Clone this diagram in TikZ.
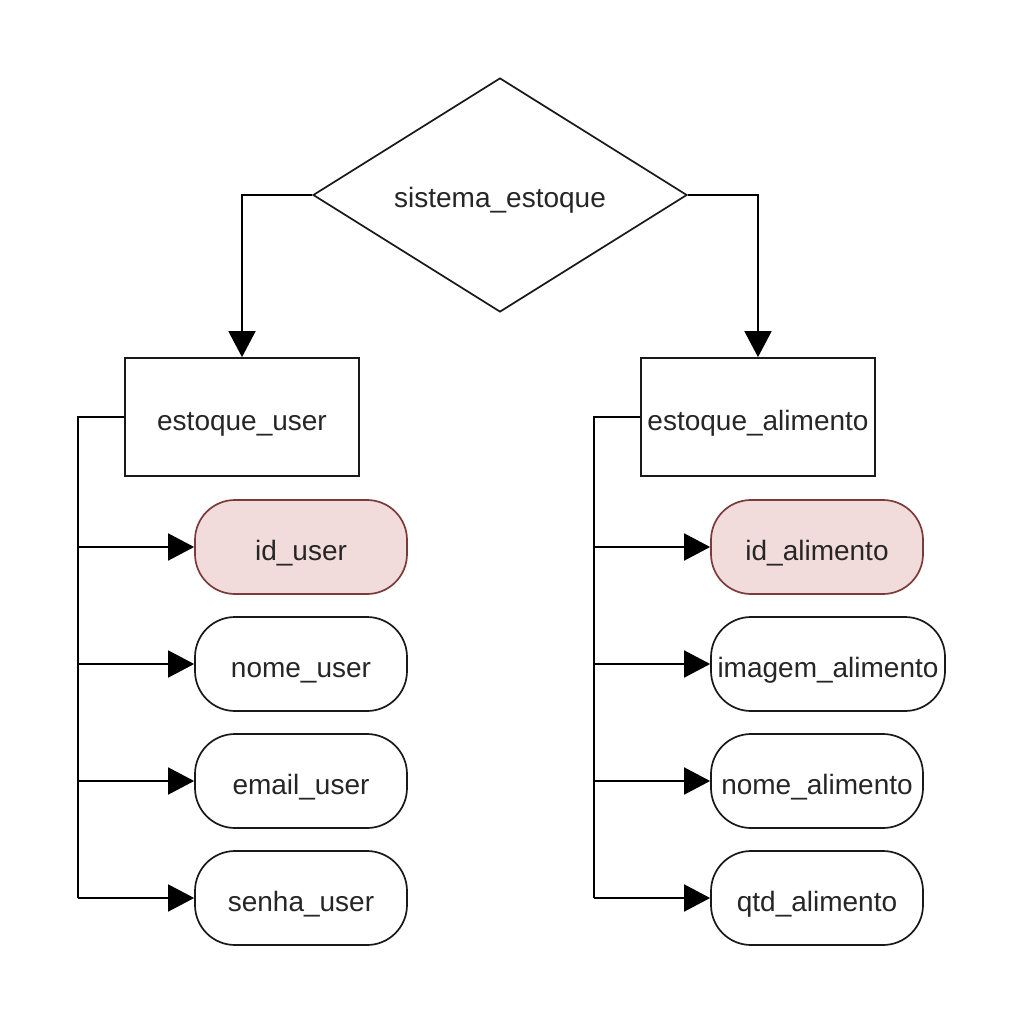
\documentclass[tikz,border=0pt]{standalone}
\usepackage{fontspec}
\setmainfont{Liberation Sans}
\usetikzlibrary{shapes.geometric,arrows.meta}
\definecolor{idfill}{HTML}{F2DCDB}
\definecolor{iddraw}{HTML}{7B3B3B}
\tikzset{
  lbl/.style={font=\fontsize{28}{32}\selectfont, text=black!85, inner sep=0pt, text height=26pt, text depth=0pt},
  decision/.style={lbl, shape=diamond, draw=black!90, line width=1.7pt, minimum width=374pt, minimum height=234pt, aspect=1.6},
  entity/.style={lbl, draw=black!90, line width=1.7pt, minimum width=234pt, minimum height=118pt},
  attr/.style={lbl, draw=black!90, line width=1.7pt, rounded corners=40pt, minimum width=212pt, minimum height=94pt},
  keyattr/.style={attr, fill=idfill, draw=iddraw},
  conn/.style={line width=1.7pt, black},
  arr/.style={conn, -{Triangle[length=26pt,width=27pt]}},
}
\begin{document}
\begin{tikzpicture}[x=1pt,y=-1pt]
\useasboundingbox[fill=white] (0,0) rectangle (1024,1024);
\node[decision] (sys) at (500,195) {sistema\_estoque};
\node[entity] (eu) at (242,417) {estoque\_user};
\node[entity] (ea) at (758,417) {estoque\_alimento};
\node[keyattr] (iu) at (301,547) {id\_user};
\node[attr] (nu) at (301,664) {nome\_user};
\node[attr] (mu) at (301,781) {email\_user};
\node[attr] (su) at (301,898) {senha\_user};
\node[keyattr] (ia) at (817,547) {id\_alimento};
\node[attr, minimum width=234pt] (ma) at (828,664) {imagem\_alimento};
\node[attr] (na) at (817,781) {nome\_alimento};
\node[attr] (qa) at (817,898) {qtd\_alimento};
\coordinate (lb) at (78,417);
\coordinate (rb) at (594,417);
\draw[arr] (sys.west) -| (eu.north);
\draw[arr] (sys.east) -| (ea.north);
\draw[conn] (eu.west) -- (lb) -- (lb |- su.west);
\draw[conn] (ea.west) -- (rb) -- (rb |- qa.west);
\foreach \n in {iu,nu,mu,su}{\draw[arr] (lb |- \n.west) -- (\n.west);}
\foreach \n in {ia,ma,na,qa}{\draw[arr] (rb |- \n.west) -- (\n.west);}
\end{tikzpicture}
\end{document}
